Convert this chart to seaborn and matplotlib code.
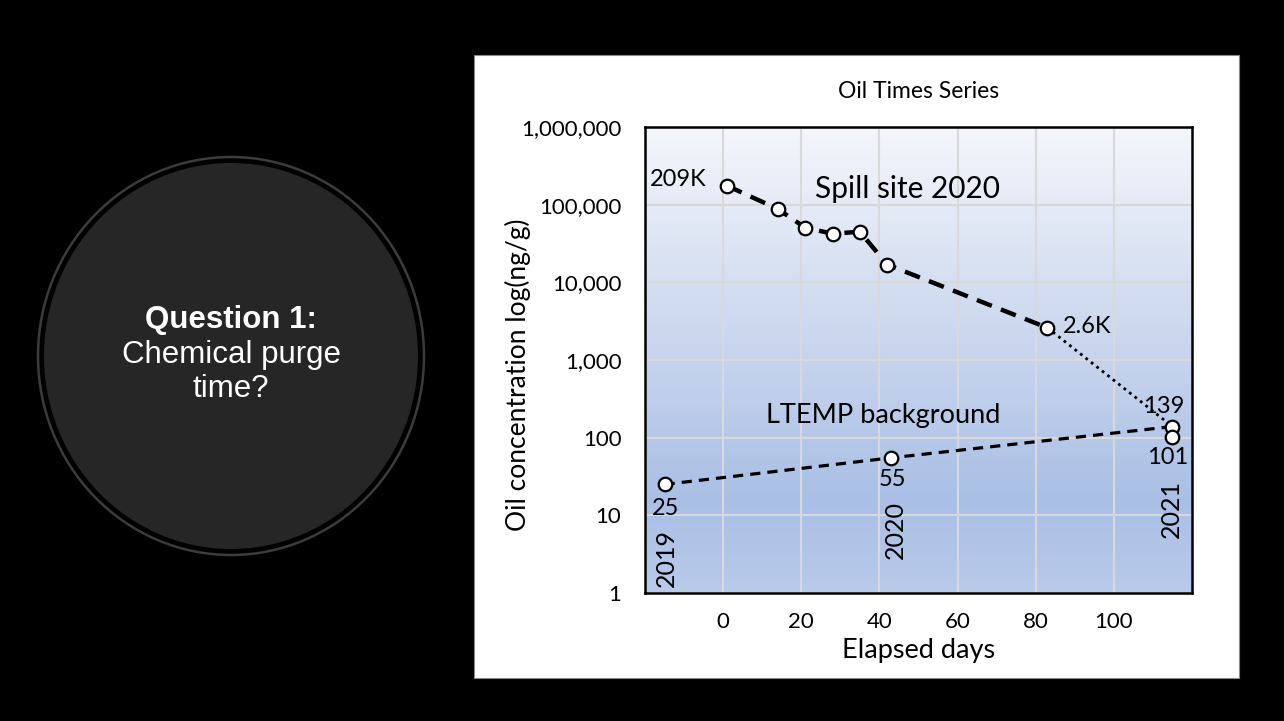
#!/usr/bin/env python

import numpy as np
import matplotlib
matplotlib.use("Agg")
import matplotlib.pyplot as plt
from matplotlib.patches import Rectangle, Ellipse
from matplotlib.ticker import FuncFormatter, NullLocator
from matplotlib.colors import LinearSegmentedColormap
import seaborn as sns

# spill site samples (elapsed days, ng/g)
spillDays = [1, 14, 21, 28, 35, 42, 83]
spillConc = [175000, 88000, 50500, 42300, 44800, 16900, 2600]

# dotted tail from the last spill sample to the 2021 sample
tailDays = [83, 115]
tailConc = [2600, 139]

# LTEMP background samples
ltempDays = [-15, 43, 115]
ltempConc = [25, 55, 139]
extraDays = [115]
extraConc = [101]

yearLabels = ["2019", "2020", "2021"]
xTicks = [0, 20, 40, 60, 80, 100]
yTicks = [1, 10, 100, 1000, 10000, 100000, 1000000]

sns.set_style("white")
plt.rcParams['font.family'] = ['Lato', 'DejaVu Sans']
plt.rcParams['text.color'] = 'black'
plt.rcParams['axes.labelcolor'] = 'black'

W, H = 1284, 721
fig = plt.figure(figsize=(W / 100, H / 100), dpi=100, facecolor="black")

# background layer in pixel coordinates
bg = fig.add_axes([0, 0, 1, 1])
bg.set_xlim(0, W)
bg.set_ylim(H, 0)
bg.axis("off")
bg.add_patch(Ellipse((231, 356), 386, 398, facecolor="none", edgecolor="#3c3c3c", lw=1.8))
bg.add_patch(Ellipse((231, 356), 374, 386, facecolor="#262626", edgecolor="none"))
bg.text(231, 320, "Question 1:", color="white", fontsize=22.5, fontweight="bold",
        ha="center", va="center", family="Liberation Sans")
bg.text(231, 355, "Chemical purge", color="white", fontsize=22.5,
        ha="center", va="center", family="Liberation Sans")
bg.text(231, 389, "time?", color="white", fontsize=22.5,
        ha="center", va="center", family="Liberation Sans")
bg.add_patch(Rectangle((474, 55), 765, 623, facecolor="white", edgecolor="#888888", lw=0.8))

# chart axes
ax = fig.add_axes([645 / W, (H - 593) / H, (1192 - 645) / W, (593 - 127) / H])
ax.patch.set_alpha(0)

cmap = LinearSegmentedColormap.from_list(
    "grad", [(0, "#f4f6fb"), (0.45, "#cbd7ee"), (0.8, "#a9bfe5"), (1.0, "#b9caea")])
grad = cmap(np.linspace(0, 1, 256))[:, None, :3]
ax.imshow(grad, extent=[0, 1, 0, 1], transform=ax.transAxes, aspect="auto",
          origin="upper", zorder=0)

sns.lineplot(x=spillDays, y=spillConc, ax=ax, color="black", lw=3.2, sort=False,
             estimator=None, linestyle=(0, (3.6, 2.2)), zorder=3)
sns.lineplot(x=tailDays, y=tailConc, ax=ax, color="black", lw=2.0, sort=False,
             estimator=None, linestyle=(0, (1, 1.5)), zorder=3)
sns.lineplot(x=ltempDays, y=ltempConc, ax=ax, color="black", lw=2.3, sort=False,
             estimator=None, linestyle=(0, (3.2, 2.2)), zorder=3)

mk = dict(s=95, color="white", edgecolor="black", linewidth=1.6, zorder=5, ax=ax)
sns.scatterplot(x=spillDays + tailDays[1:], y=spillConc + tailConc[1:], **mk)
sns.scatterplot(x=ltempDays[:2], y=ltempConc[:2], **mk)
sns.scatterplot(x=extraDays, y=extraConc, **mk)

ax.set_yscale("log")
ax.set_xlim(-20, 120)
ax.set_ylim(1, 1000000)
ax.set_xticks(xTicks)
ax.set_yticks(yTicks)
ax.xaxis.set_minor_locator(NullLocator())
ax.yaxis.set_minor_locator(NullLocator())
ax.yaxis.set_major_formatter(FuncFormatter(lambda v, p: f"{v:,.0f}"))
ax.tick_params(axis="both", length=0, labelsize=16, colors="black")
ax.tick_params(axis="y", pad=17)
ax.tick_params(axis="x", pad=14)

ax.grid(True, color="#d9d9d9", lw=1.5, zorder=1)
ax.set_axisbelow(True)
for s in ax.spines.values():
    s.set_color("black")
    s.set_linewidth(1.8)
    s.set_zorder(6)

ax.set_title("Oil Times Series", fontsize=16.5, pad=21, color="black")
ax.set_xlabel("Elapsed days", fontsize=19.5, color="black", labelpad=4)
ax.set_ylabel("Oil concentration log(ng/g)", fontsize=19, color="black")
ax.yaxis.label.set_va("center")
ax.yaxis.set_label_coords((518 - 645) / (1192 - 645), (593 - 375) / (593 - 127))

lab = dict(textcoords="offset pixels", fontsize=17, color="black", va="center", zorder=7)
ax.annotate("209K", (spillDays[0], spillConc[0]), xytext=(-20, 6), ha="right", **lab)
ax.annotate("2.6K", (spillDays[-1], spillConc[-1]), xytext=(15, 1), ha="left", **lab)
ax.annotate("139", (tailDays[1], tailConc[1]), xytext=(-9, 20), ha="center", **lab)
ax.annotate("101", (extraDays[0], extraConc[0]), xytext=(-5, -20), ha="center", **lab)
ax.annotate("25", (ltempDays[0], ltempConc[0]), xytext=(1, -24), ha="center", **lab)
ax.annotate("55", (ltempDays[1], ltempConc[1]), xytext=(1, -22), ha="center", **lab)

yr = dict(textcoords="offset pixels", fontsize=18, color="black", va="center",
          ha="center", rotation=90, zorder=7)
ax.annotate(yearLabels[0], (ltempDays[0], ltempConc[0]), xytext=(2, -74), **yr)
ax.annotate(yearLabels[1], (ltempDays[1], ltempConc[1]), xytext=(4, -72), **yr)
ax.annotate(yearLabels[2], (extraDays[0], extraConc[0]), xytext=(-1, -72), **yr)

ax.text(47.2, 160000, "Spill site 2020", fontsize=21.5, ha="center", va="center",
        color="black", zorder=7)
ax.text(41, 194, "LTEMP background", fontsize=19.5, ha="center", va="center",
        color="black", zorder=7)

fig.savefig("out.png", dpi=100, facecolor="black")
